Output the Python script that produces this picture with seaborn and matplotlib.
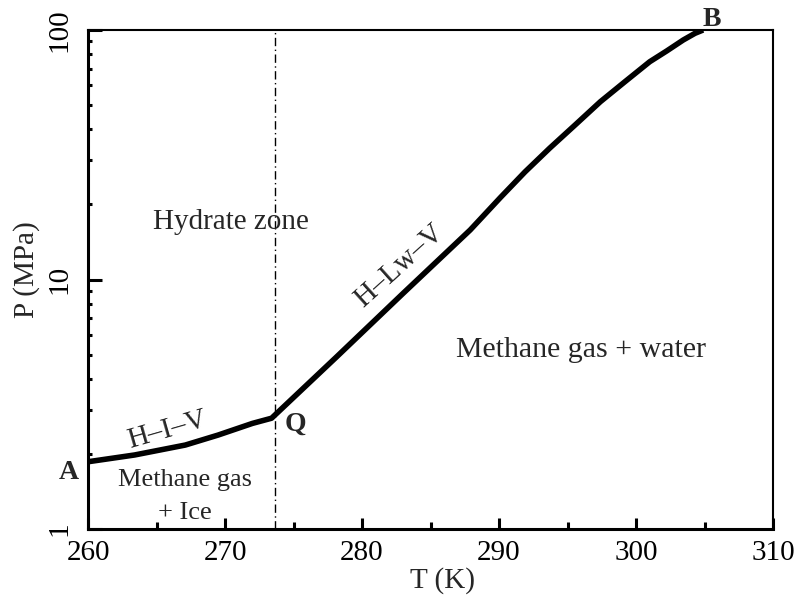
import matplotlib
matplotlib.use("Agg")
import numpy as np
import pandas as pd
import matplotlib.pyplot as plt
import seaborn as sns
from matplotlib.ticker import FixedLocator, FixedFormatter, LogLocator, NullFormatter, MultipleLocator

# Methane hydrate equilibrium curve: ice branch (A -> Q) and liquid-water branch (Q -> B)
t_ice = [260.0, 263.4, 267.1, 269.5, 272.0, 273.4]
p_ice = [1.86, 1.98, 2.17, 2.38, 2.65, 2.78]
t_water = [273.4, 278.15, 283.0, 287.9, 290.1, 291.9, 293.7, 295.55, 297.4,
           299.2, 301.0, 302.24, 303.45, 304.31, 304.9]
p_water = [2.78, 4.90, 8.80, 15.8, 21.3, 27.0, 33.6, 41.6, 51.6,
           62.1, 74.6, 82.4, 91.2, 97.0, 100.0]

# ice melting line
t_melt = 273.67

x_ticks = [260, 270, 280, 290, 300, 310]
y_ticks = [1, 10, 100]
y_tick_labels = ["1", "10", "100"]

curve = pd.DataFrame({
    "T": t_ice + t_water[1:],
    "P": p_ice + p_water[1:],
})

sns.set_style("ticks")
plt.rcParams["font.family"] = ["Liberation Serif", "DejaVu Serif"]

fig = plt.figure(figsize=(7.96, 5.97), dpi=100)
ax = fig.add_axes([88 / 796, 68 / 597, 685 / 796, 499 / 597])

ax.axvline(t_melt, color="black", lw=1.0, linestyle=(0, (6, 2.5, 1, 2.5)))
sns.lineplot(data=curve, x="T", y="P", ax=ax, color="black", lw=4.0,
             sort=False, solid_joinstyle="round", solid_capstyle="butt")

ax.set_yscale("log")
ax.set_xlim(260, 310)
ax.set_ylim(1, 100)

ax.xaxis.set_major_locator(FixedLocator(x_ticks))
ax.xaxis.set_minor_locator(MultipleLocator(5))
ax.yaxis.set_major_locator(FixedLocator(y_ticks))
ax.yaxis.set_major_formatter(FixedFormatter(y_tick_labels))
ax.yaxis.set_minor_locator(LogLocator(base=10, subs=np.arange(2, 10)))
ax.yaxis.set_minor_formatter(NullFormatter())

ax.tick_params(axis="both", which="both", direction="in", width=2.2,
               color="black", labelcolor="black", labelsize=21)
ax.tick_params(axis="x", which="major", length=8, pad=8)
ax.tick_params(axis="x", which="minor", length=5)
ax.tick_params(axis="y", which="major", length=10, pad=11, labelrotation=90)
ax.tick_params(axis="y", which="minor", length=3)
for lab in ax.get_yticklabels():
    lab.set_verticalalignment("center")

for side in ["left", "bottom"]:
    ax.spines[side].set_linewidth(2.2)
for side in ["top", "right"]:
    ax.spines[side].set_linewidth(1.5)
for sp in ax.spines.values():
    sp.set_color("black")

ax.set_xlabel("T (K)", fontsize=21)
ax.set_ylabel("P (MPa)", fontsize=21)
ax.xaxis.set_label_coords(0.518, -0.076)
ax.yaxis.set_label_coords(-0.070, 0.519)

ax.text(270.44, 17.0, "Hydrate zone", fontsize=21, ha="center", va="center")
ax.text(295.99, 5.22, "Methane gas + water", fontsize=21.5, ha="center", va="center")
ax.text(267.08, 1.572, "Methane gas", fontsize=19, ha="center", va="center")
ax.text(267.08, 1.159, "+ Ice", fontsize=19, ha="center", va="center")
ax.text(265.8, 2.49, "H\u2013I\u2013V", fontsize=21, ha="center", va="center", rotation=16)
ax.text(282.77, 11.33, "H\u2013Lw\u2013V", fontsize=21, ha="center", va="center", rotation=42)

ax.text(258.61, 1.69, "A", fontsize=20, fontweight="bold", ha="center", va="center", clip_on=False)
ax.text(275.11, 2.64, "Q", fontsize=20, fontweight="bold", ha="center", va="center", clip_on=False)
ax.text(305.55, 110.0, "B", fontsize=20, fontweight="bold", ha="center", va="center", clip_on=False)

fig.savefig("out.png", dpi=100)
